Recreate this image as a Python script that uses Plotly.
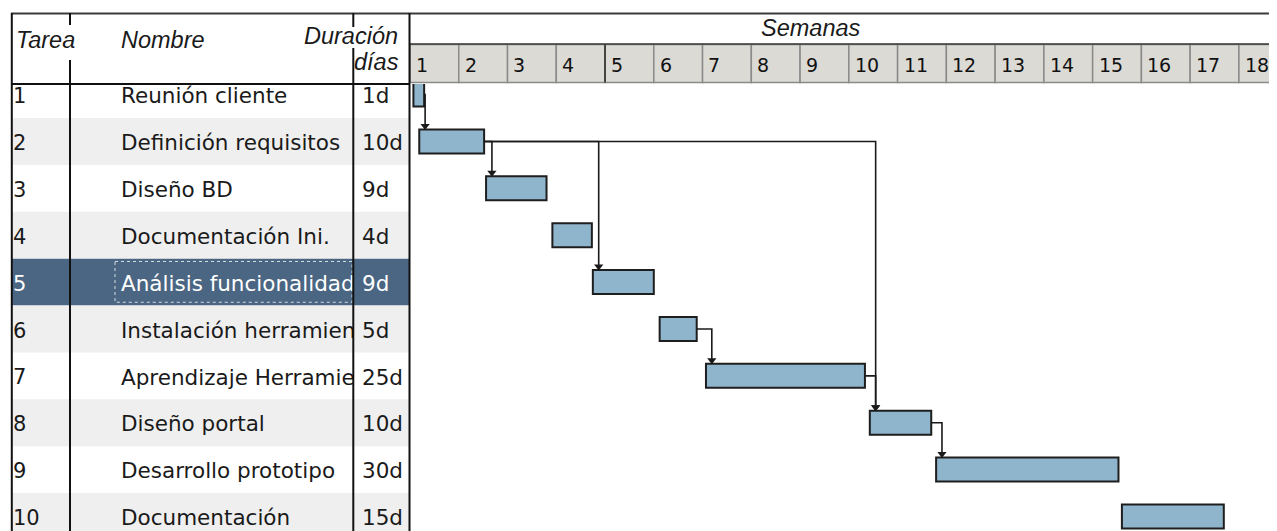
import plotly.graph_objects as go

# ---------------- data ----------------
tareas = [1, 2, 3, 4, 5, 6, 7, 8, 9, 10]
nombres = ["Reunión cliente", "Definición requisitos", "Diseño BD", "Documentación Ini.",
           "Análisis funcionalidad", "Instalación herramientas", "Aprendizaje Herramientas",
           "Diseño portal", "Desarrollo prototipo", "Documentación"]
duraciones = ["1d", "10d", "9d", "4d", "9d", "5d", "25d", "10d", "30d", "15d"]
# start / end of each bar, in weeks from the start of week 1
inicio_sem = [0.07, 0.19, 1.56, 2.92, 3.75, 5.12, 6.07, 9.43, 10.79, 14.60]
fin_sem = [0.29, 1.52, 2.80, 3.73, 5.00, 5.88, 9.33, 10.69, 14.53, 16.69]
dependencias = [(1, 2), (2, 3), (2, 5), (2, 8), (6, 7), (7, 8), (8, 9)]
semanas = list(range(1, 19))
tarea_sel = 5

# ---------------- layout helpers ----------------
W, H = 1277, 531          # target picture
OX, OY = 8, 8             # page body margin
FW, FH = W - OX, H - OY   # figure size
def px(x): return (x - OX) / FW
def py(y): return 1 - (y - OY) / FH

ROW0, ROWH = 94.6, 46.875          # pixel centre of row 1, row height
HDR = 84                            # header bottom (px)
k_top = 1 + (HDR - ROW0) / ROWH
k_bot = 1 + (H - ROW0) / ROWH
WEEK_PX = 48.76
GX0 = 410
BAR_H = 24 / ROWH
TY = 0.07                           # text baseline nudge (rows)

TXT = "#1a1a1a"
BODY_FONT = "DejaVu Sans"
HDR_FONT = "Liberation Sans"

fig = go.Figure()

# bars
fig.add_trace(go.Bar(
    orientation="h", y=tareas, base=inicio_sem,
    x=[f - s for s, f in zip(inicio_sem, fin_sem)],
    width=BAR_H, marker=dict(color="#8fb5cc", line=dict(color="#1e1e1e", width=2)),
    hoverinfo="skip", xaxis="x", yaxis="y", showlegend=False))

# dependency connectors
OFF = 0.12
lx, ly, ax_, ay_ = [], [], [], []
for p, s in dependencias:
    xv = inicio_sem[s - 1] + OFF
    ytop = s - BAR_H / 2
    lx += [fin_sem[p - 1], xv, xv, None]
    ly += [p, p, ytop - 0.02, None]
    ax_.append(xv)
    ay_.append(ytop - 0.075)
fig.add_trace(go.Scatter(x=lx, y=ly, mode="lines", line=dict(color="#1a1a1a", width=1.6),
                         hoverinfo="skip", showlegend=False, xaxis="x", yaxis="y"))
fig.add_trace(go.Scatter(x=ax_, y=ay_, mode="markers",
                         marker=dict(symbol="triangle-down", size=8, color="#1a1a1a"),
                         hoverinfo="skip", showlegend=False, xaxis="x", yaxis="y"))

cols = ["white" if t == tarea_sel else TXT for t in tareas]
ty = [t + TY for t in tareas]
# table text columns
fig.add_trace(go.Scatter(x=[1] * len(tareas), y=ty, text=[str(t) for t in tareas],
                         mode="text", textposition="middle right",
                         textfont=dict(family=BODY_FONT, size=21, color=cols),
                         hoverinfo="skip", showlegend=False, xaxis="x2", yaxis="y", cliponaxis=True))
fig.add_trace(go.Scatter(x=[51] * len(tareas), y=ty, text=nombres,
                         mode="text", textposition="middle right",
                         textfont=dict(family=BODY_FONT, size=21.5, color=cols),
                         hoverinfo="skip", showlegend=False, xaxis="x3", yaxis="y", cliponaxis=True))
fig.add_trace(go.Scatter(x=[9] * len(tareas), y=ty, text=duraciones,
                         mode="text", textposition="middle right",
                         textfont=dict(family=BODY_FONT, size=21.5, color=cols),
                         hoverinfo="skip", showlegend=False, xaxis="x4", yaxis="y", cliponaxis=True))

shapes = []
# alternating rows + selected row
for t in tareas:
    if t == tarea_sel:
        col = "#4a6682"
    elif t % 2 == 0:
        col = "#efefef"
    else:
        continue
    shapes.append(dict(type="rect", xref="paper", yref="y", x0=px(12), x1=px(409),
                       y0=max(t - 0.5, k_top), y1=t + 0.5, fillcolor=col, line=dict(width=0), layer="below"))
# focus rectangle on selected name
shapes.append(dict(type="rect", xref="paper", yref="y", x0=px(115), x1=px(352),
                   y0=tarea_sel - 0.44, y1=tarea_sel + 0.43, fillcolor="rgba(0,0,0,0)",
                   line=dict(color="#d8dde3", width=1, dash="dot"), layer="below"))

def vline(x, y0, y1, color="#111111", w=2):
    shapes.append(dict(type="line", xref="paper", yref="paper", x0=px(x), x1=px(x),
                       y0=py(y0), y1=py(y1), line=dict(color=color, width=w)))
def hline(y, x0, x1, color="#111111", w=2):
    shapes.append(dict(type="line", xref="paper", yref="paper", x0=px(x0), x1=px(x1),
                       y0=py(y), y1=py(y), line=dict(color=color, width=w)))

# week header cells
for i, s in enumerate(semanas):
    shapes.append(dict(type="rect", xref="x", yref="paper", x0=i, x1=i + 1,
                       y0=py(82.5), y1=py(44.5), fillcolor="#dcdad5",
                       line=dict(color="#8a8a8a", width=1.5), layer="below"))
shapes.append(dict(type="line", xref="x", yref="paper", x0=4, x1=4, y0=py(82.5), y1=py(44.5),
                   line=dict(color="#2a2a2a", width=1.5)))

hline(13.5, 11, W, color="#3a3a3a", w=2)
hline(44, GX0, W, color="#3a3a3a", w=1.5)
hline(84, 11, 409.5)
vline(11.8, 13, H)
vline(409.5, 13, H)
vline(70, HDR, H)
vline(353.3, HDR, H)
vline(70, 13, 25)
vline(70, 60, HDR)
vline(353.3, 13, 27)
vline(353.3, 48, HDR)

ann = []
def hdr(text, x, y, anchor):
    ann.append(dict(text="<i>%s</i>" % text, xref="paper", yref="paper", x=px(x), y=py(y),
                    xanchor=anchor, yanchor="middle", showarrow=False,
                    font=dict(family=HDR_FONT, size=23.5, color=TXT)))
hdr("Tarea", 14, 40, "left")
hdr("Nombre", 119, 40, "left")
hdr("Duración", 400, 36, "right")
hdr("días", 401, 62, "right")
hdr("Semanas", 811, 28, "center")

for i, s in enumerate(semanas):
    ann.append(dict(text=str(s), xref="x", yref="paper", x=i + 0.08, y=py(65),
                    xanchor="left", yanchor="middle", showarrow=False,
                    font=dict(family=BODY_FONT, size=19, color="#111111")))

ax_common = dict(visible=False, fixedrange=True)
fig.update_layout(
    width=FW, height=FH, margin=dict(l=0, r=0, t=0, b=0),
    paper_bgcolor="white", plot_bgcolor="rgba(0,0,0,0)",
    showlegend=False, shapes=shapes, annotations=ann,
    xaxis=dict(domain=[px(GX0), 1], range=[0, (W - GX0) / WEEK_PX], anchor="y", **ax_common),
    xaxis2=dict(domain=[px(12), px(70)], range=[0, 58], anchor="y", **ax_common),
    xaxis3=dict(domain=[px(70), px(353)], range=[0, 283], anchor="y", **ax_common),
    xaxis4=dict(domain=[px(353), px(409)], range=[0, 56], anchor="y", **ax_common),
    yaxis=dict(domain=[0, py(HDR)], range=[k_bot, k_top], **ax_common),
)

fig.write_html("out.html")
